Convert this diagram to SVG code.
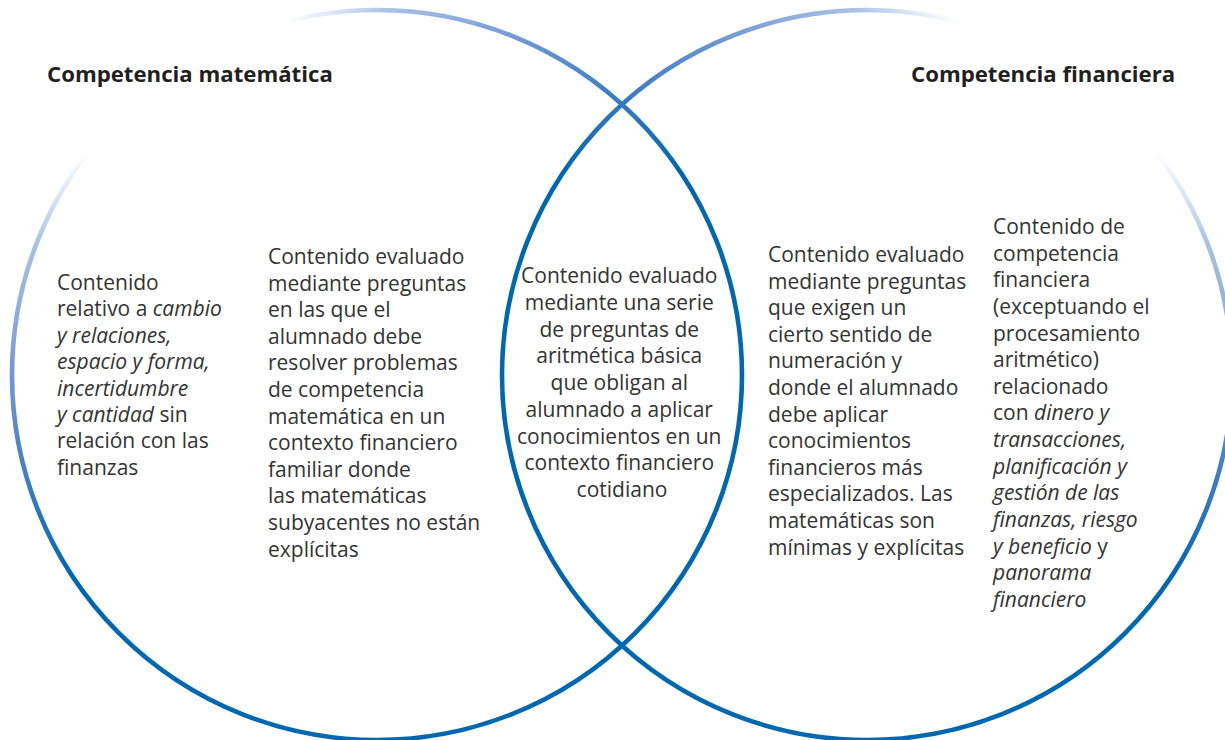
<svg xmlns="http://www.w3.org/2000/svg" width="1225" height="740" viewBox="0 0 1225 740">
  <defs>
    <linearGradient id="gradL" gradientUnits="userSpaceOnUse" x1="176" y1="72" x2="377" y2="375">
      <stop offset="0" stop-color="#ffffff"/>
      <stop offset="0.05" stop-color="#ffffff"/>
      <stop offset="0.18" stop-color="#a9c1e5"/>
      <stop offset="0.45" stop-color="#6f98d3"/>
      <stop offset="0.72" stop-color="#3a7bc4"/>
      <stop offset="1" stop-color="#0067b1"/>
    </linearGradient>
    <linearGradient id="gradR" gradientUnits="userSpaceOnUse" x1="1068" y1="72" x2="867" y2="375">
      <stop offset="0" stop-color="#ffffff"/>
      <stop offset="0.05" stop-color="#ffffff"/>
      <stop offset="0.18" stop-color="#a9c1e5"/>
      <stop offset="0.45" stop-color="#6f98d3"/>
      <stop offset="0.72" stop-color="#3a7bc4"/>
      <stop offset="1" stop-color="#0067b1"/>
    </linearGradient>
    <style>
      .ring { fill: none; stroke-width: 4.6; }
      .title { font-family: "Open Sans", "Liberation Sans", sans-serif; font-weight: 700; font-size: 22.2px; fill: #231f20; }
      .body { font-family: "Open Sans", "Liberation Sans", sans-serif; font-size: 21px; fill: #333333; }
      .mid { text-anchor: middle; }
      .it { font-style: italic; }
    </style>
  </defs>
  <rect x="0" y="0" width="1225" height="740" fill="#ffffff"/>

  <g id="circles">
    <circle id="circle-matematica" class="ring" cx="377" cy="375" r="365" stroke="url(#gradL)"/>
    <circle id="circle-financiera" class="ring" cx="867" cy="375" r="365" stroke="url(#gradR)"/>
  </g>

  <g id="title-matematica">
    <text class="title" x="47" y="82">Competencia matemática</text>
  </g>
  <g id="title-financiera">
    <text class="title" x="911" y="82">Competencia financiera</text>
  </g>

  <g id="node-math-only">
    <text class="body" x="57" y="290">
      <tspan x="57" dy="0">Contenido</tspan>
      <tspan x="57" dy="26.4">relativo a <tspan class="it">cambio</tspan></tspan>
      <tspan x="57" dy="26.4" class="it">y relaciones,</tspan>
      <tspan x="57" dy="26.4" class="it">espacio y forma,</tspan>
      <tspan x="57" dy="26.4" class="it">incertidumbre</tspan>
      <tspan x="57" dy="26.4"><tspan class="it">y cantidad</tspan> sin</tspan>
      <tspan x="57" dy="26.4">relación con las</tspan>
      <tspan x="57" dy="26.4">finanzas</tspan>
    </text>
  </g>

  <g id="node-math-financial-context">
    <text class="body" x="268" y="264">
      <tspan x="268" dy="0">Contenido evaluado</tspan>
      <tspan x="268" dy="26.6">mediante preguntas</tspan>
      <tspan x="268" dy="26.6">en las que el</tspan>
      <tspan x="268" dy="26.6">alumnado debe</tspan>
      <tspan x="268" dy="26.6">resolver problemas</tspan>
      <tspan x="268" dy="26.6">de competencia</tspan>
      <tspan x="268" dy="26.6">matemática en un</tspan>
      <tspan x="268" dy="26.6">contexto financiero</tspan>
      <tspan x="268" dy="26.6">familiar donde</tspan>
      <tspan x="268" dy="26.6">las matemáticas</tspan>
      <tspan x="268" dy="26.6">subyacentes no están</tspan>
      <tspan x="268" dy="26.6">explícitas</tspan>
    </text>
  </g>

  <g id="node-intersection">
    <text class="body mid" x="622" y="283">
      <tspan x="622" dy="0">Contenido evaluado</tspan>
      <tspan x="622" dy="26.75">mediante una serie</tspan>
      <tspan x="622" dy="26.75">de preguntas de</tspan>
      <tspan x="622" dy="26.75">aritmética básica</tspan>
      <tspan x="622" dy="26.75">que obligan al</tspan>
      <tspan x="622" dy="26.75">alumnado a aplicar</tspan>
      <tspan x="622" dy="26.75">conocimientos en un</tspan>
      <tspan x="622" dy="26.75">contexto financiero</tspan>
      <tspan x="622" dy="26.75">cotidiano</tspan>
    </text>
  </g>

  <g id="node-financial-numeracy">
    <text class="body" x="768" y="262">
      <tspan x="768" dy="0">Contenido evaluado</tspan>
      <tspan x="768" dy="26.6">mediante preguntas</tspan>
      <tspan x="768" dy="26.6">que exigen un</tspan>
      <tspan x="768" dy="26.6">cierto sentido de</tspan>
      <tspan x="768" dy="26.6">numeración y</tspan>
      <tspan x="768" dy="26.6">donde el alumnado</tspan>
      <tspan x="768" dy="26.6">debe aplicar</tspan>
      <tspan x="768" dy="26.6">conocimientos</tspan>
      <tspan x="768" dy="26.6">financieros más</tspan>
      <tspan x="768" dy="26.6">especializados. Las</tspan>
      <tspan x="768" dy="26.6">matemáticas son</tspan>
      <tspan x="768" dy="26.6">mínimas y explícitas</tspan>
    </text>
  </g>

  <g id="node-financial-only">
    <text class="body" x="993" y="234">
      <tspan x="993" dy="0">Contenido de</tspan>
      <tspan x="993" dy="26.64">competencia</tspan>
      <tspan x="993" dy="26.64">financiera</tspan>
      <tspan x="993" dy="26.64">(exceptuando el</tspan>
      <tspan x="993" dy="26.64">procesamiento</tspan>
      <tspan x="993" dy="26.64">aritmético)</tspan>
      <tspan x="993" dy="26.64">relacionado</tspan>
      <tspan x="993" dy="26.64">con <tspan class="it">dinero y</tspan></tspan>
      <tspan x="993" dy="26.64" class="it">transacciones,</tspan>
      <tspan x="993" dy="26.64" class="it">planificación y</tspan>
      <tspan x="993" dy="26.64" class="it">gestión de las</tspan>
      <tspan x="993" dy="26.64" class="it">finanzas, riesgo</tspan>
      <tspan x="993" dy="26.64"><tspan class="it">y beneficio</tspan> y</tspan>
      <tspan x="993" dy="26.64" class="it">panorama</tspan>
      <tspan x="993" dy="26.64" class="it">financiero</tspan>
    </text>
  </g>

  <g id="connectors"/>
</svg>
